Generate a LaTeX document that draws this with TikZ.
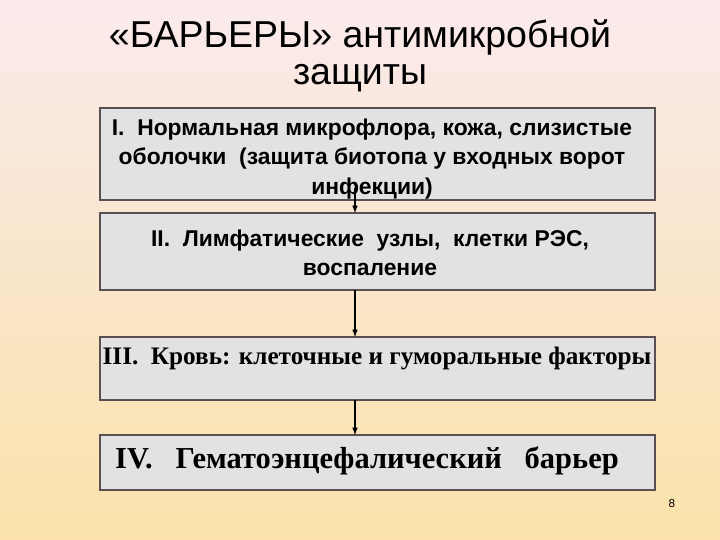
\documentclass[tikz,border=0pt]{standalone}
\usepackage{fontspec}
\setmainfont{Liberation Serif}
\newfontfamily\sansf{Liberation Sans}
\definecolor{bgtop}{RGB}{250,234,236}
\definecolor{bgmid}{RGB}{245,186,142}
\definecolor{bgbot}{RGB}{250,226,170}
\definecolor{marble}{RGB}{226,226,228}
\definecolor{frame}{RGB}{90,80,80}
\begin{document}
\begin{tikzpicture}[x=0.03cm,y=-0.03cm,
  box/.style={draw=frame,line width=1.2pt,fill=marble},
  sbox/.style={align=center,font=\sansf\bfseries\fontsize{19.5}{25}\selectfont},
  arr/.style={-latex,line width=1.2pt,black}]
\useasboundingbox (0,0) rectangle (720,540);
\shade[top color=bgtop,middle color=bgmid,bottom color=bgbot] (0,0) rectangle (720,540);
\node[font=\sansf\fontsize{32}{32}\selectfont,align=center] (title) at (360,56) {«БАРЬЕРЫ» антимикробной\\защиты};
\draw[box] (100,108) rectangle (655,200);
\draw[box] (100,213) rectangle (655,290);
\draw[box] (100,337) rectangle (655,400);
\draw[box] (100,435) rectangle (655,490);
\node[sbox] (b1) at (372,159) {I.\ \ Нормальная микрофлора, кожа, слизистые\\оболочки\ \ (защита биотопа у входных ворот\\инфекции)};
\node[sbox] (b2) at (370,253) {II.\ \ Лимфатические\ \ узлы,\ \ клетки РЭС,\\воспаление};
\node[font=\bfseries\fontsize{21.5}{26}\selectfont] (b3) at (377,358) {III.\ \ Кровь: клеточные и гуморальные факторы};
\node[font=\bfseries\fontsize{26}{30}\selectfont] (b4) at (367,461) {IV.\ \ \ Гематоэнцефалический\ \ \ барьер};
\coordinate (a1) at (355,188); \coordinate (a1e) at (355,213);
\coordinate (a2) at (355,290); \coordinate (a2e) at (355,337);
\coordinate (a3) at (355,400); \coordinate (a3e) at (355,435);
\draw[arr] (a1) -- (a1e);
\draw[arr] (a2) -- (a2e);
\draw[arr] (a3) -- (a3e);
\node[font=\sansf\fontsize{10}{12}\selectfont] (pg) at (672,503) {8};
\end{tikzpicture}
\end{document}
